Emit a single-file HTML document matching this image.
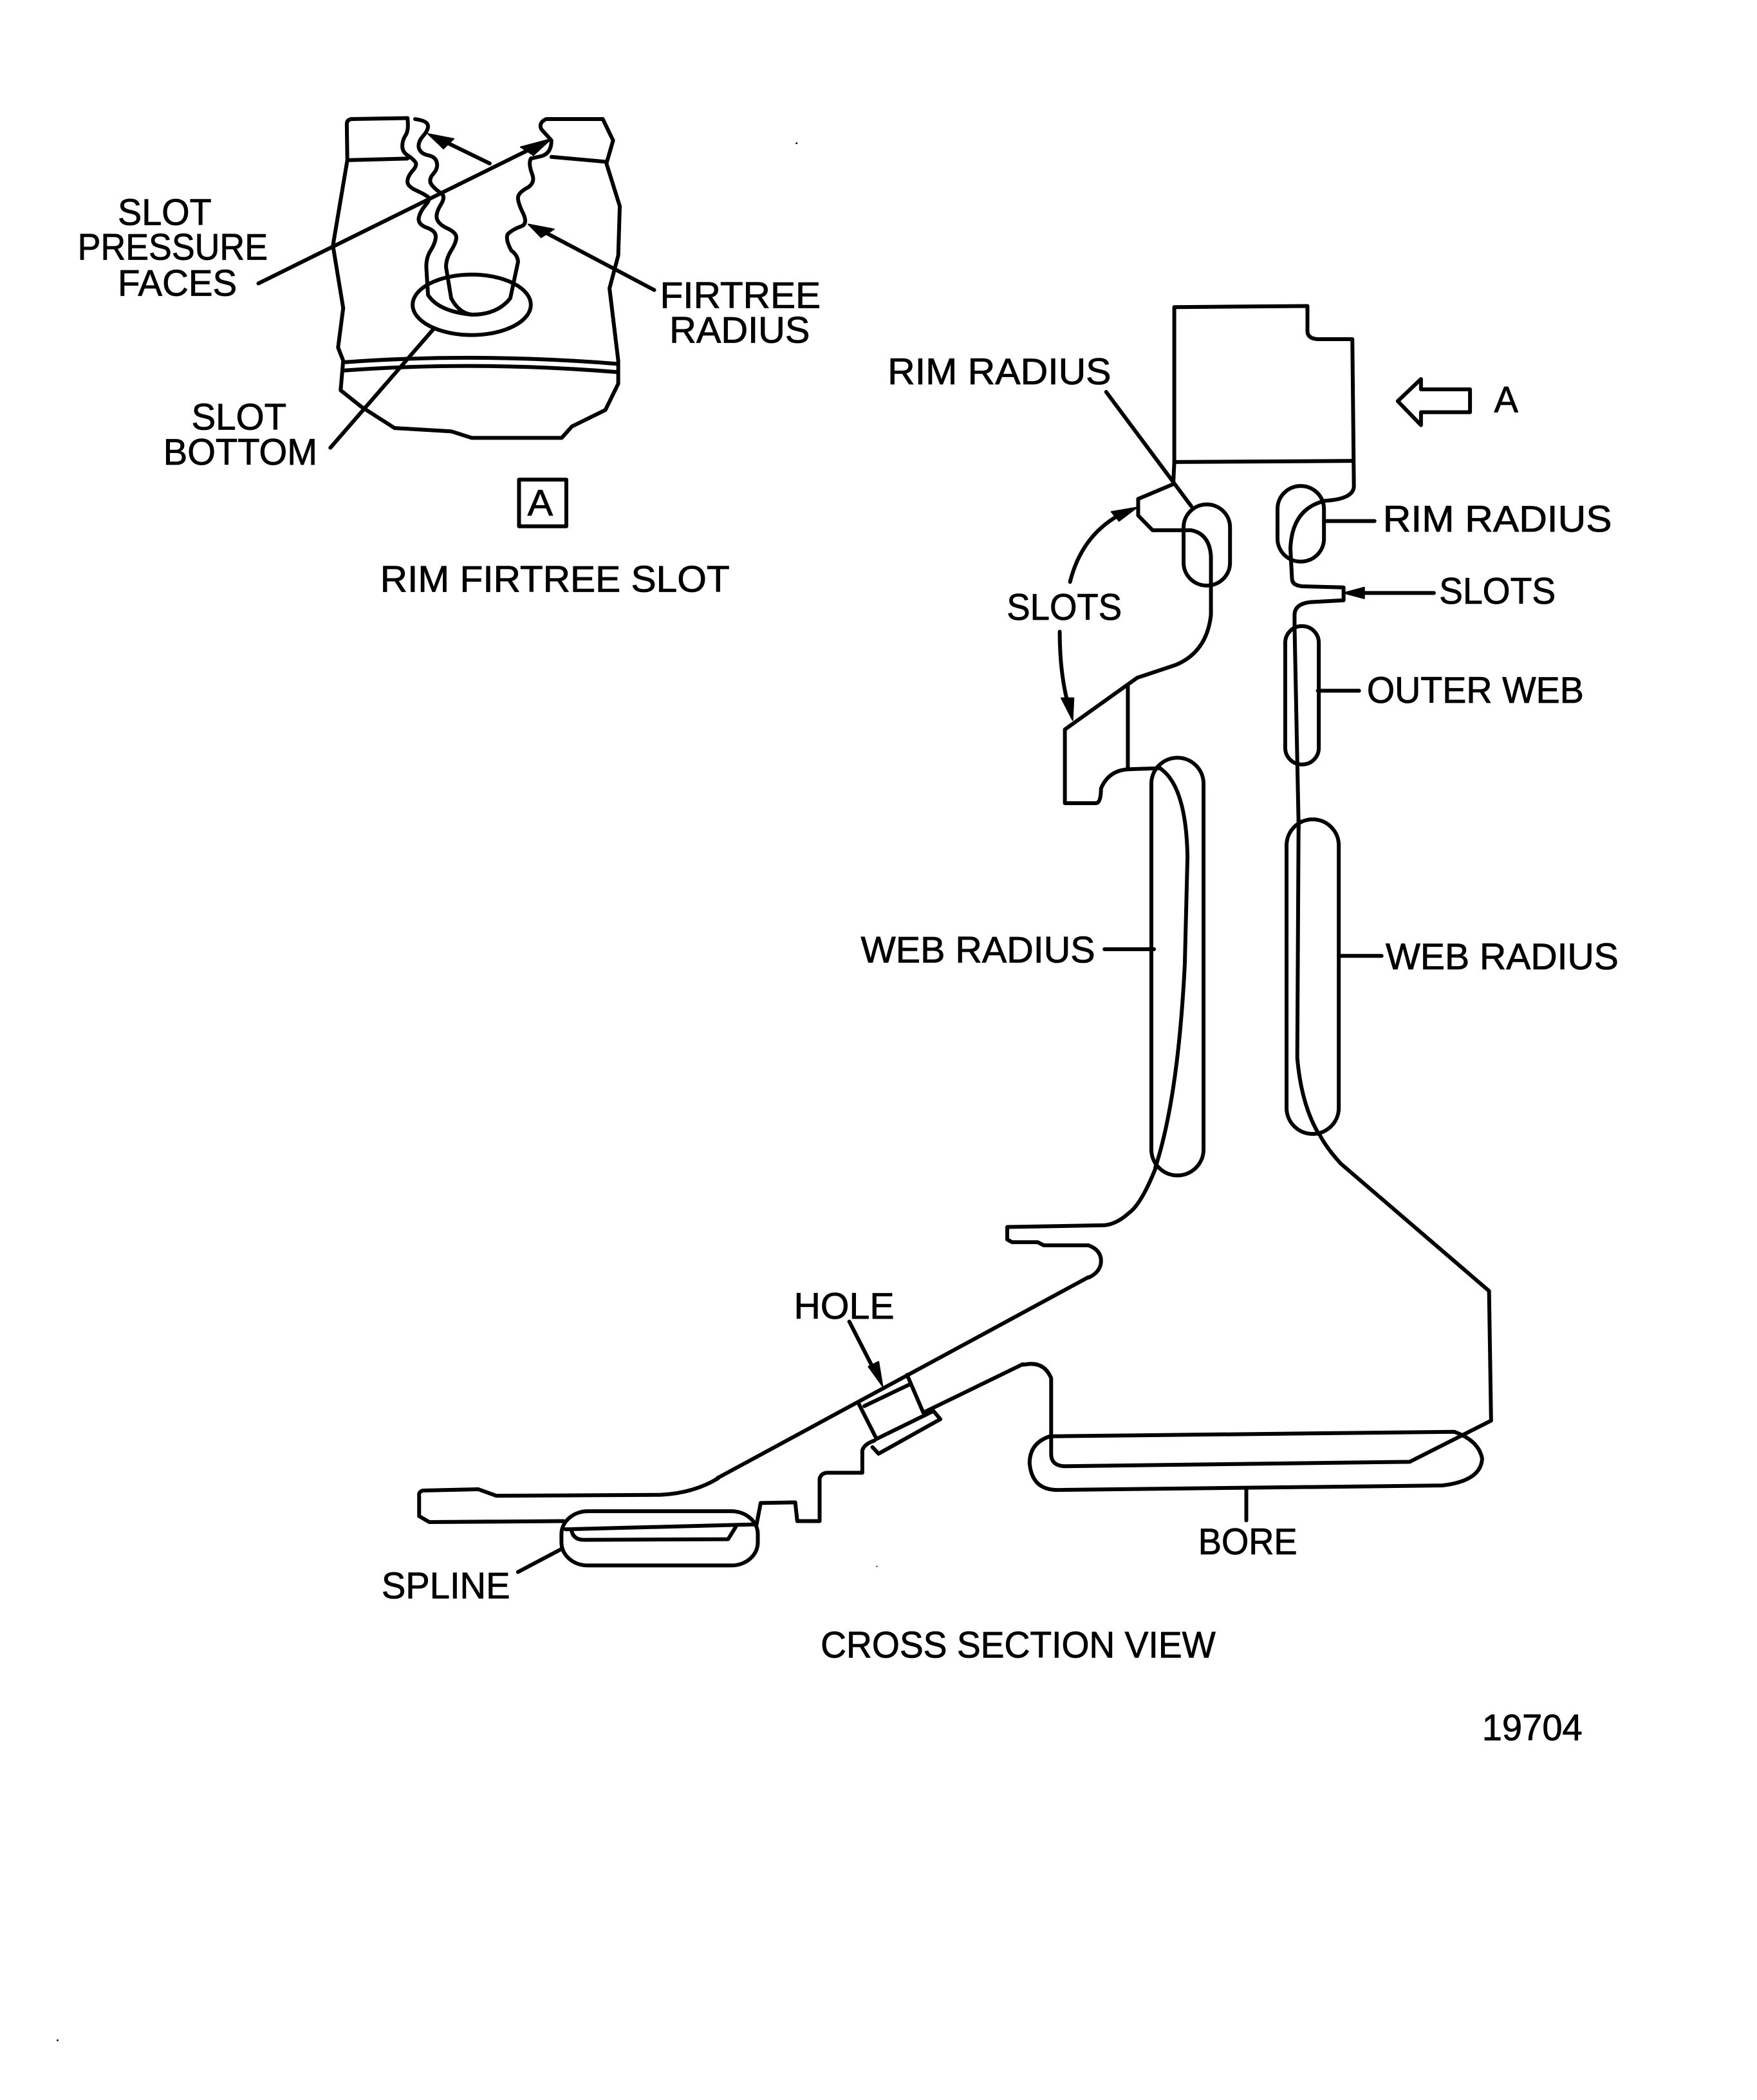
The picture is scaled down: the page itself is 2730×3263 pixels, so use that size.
<!DOCTYPE html>
<html><head><meta charset="utf-8"><style>
html,body{margin:0;padding:0;background:#fff}
svg{display:block}
.l *{fill:none;stroke:#000;stroke-width:6;stroke-linejoin:round;stroke-linecap:round;vector-effect:non-scaling-stroke}
.l .h{fill:#000;stroke-width:2}
text{font-family:"Liberation Sans",sans-serif;font-size:27.8px;fill:#000;stroke:#000;stroke-width:.4}
</style></head><body>
<svg width="2730" height="3263" viewBox="0 0 1312.4 1568.6" preserveAspectRatio="none" xmlns="http://www.w3.org/2000/svg">
<rect width="1313" height="1569" fill="#fff"/>

<!-- firtree slot -->
<g class="l" transform="translate(49,73) scale(.384,.2455)">
<path d="M665,62L555,65Q547,68 547,80L548,190L520,450L540,640L530,760L540,800L535,890L575,940L640,1005L750,1015L790,1035L965,1035L985,1000L1050,950L1075,870L1075,800L1058,580L1075,480L1078,330L1052,200L1065,130L1045,65L935,65Q920,75 925,95L945,130Q945,170 925,178L905,185"/>
<path d="M548,190L665,185M945,180L1052,195"/>
<path d="M665,62Q668,100 661,115Q655,130 655,147Q655,165 665,175Q675,185 680,195Q685,205 675,222Q665,240 665,255Q665,270 682,282Q700,295 705,302Q710,310 700,327Q690,345 687,365Q685,385 702,395Q720,405 720,422Q720,440 710,465Q700,490 702,525L705,600Q725,650 790,660"/>
<path d="M680,65Q705,70 705,87Q705,100 695,117Q685,135 687,152Q690,170 705,175Q720,180 722,197Q725,215 715,232Q705,250 712,265Q720,280 730,290Q740,300 730,325Q720,350 722,367Q725,385 742,397Q760,410 760,425Q760,440 750,465Q740,490 740,515L750,610Q765,655 790,660Q840,660 865,610L880,500Q880,480 867,465Q855,430 860,415Q870,400 885,392Q900,385 890,352Q880,320 880,305Q880,290 897,275Q915,260 907,230Q900,200 905,185"/>
<ellipse cx="790" cy="630" rx="115" ry="92"/>
<path d="M540,805Q800,775 1075,810M540,830Q800,800 1075,835"/>
<path d="M375,565L925,140M825,200L720,120M1145,585L915,395M515,1065L715,705"/>
<polygon class="h" points="945,125 885,150 910,175"/>
<polygon class="h" points="705,110 735,155 755,125"/>
<polygon class="h" points="900,385 925,425 950,400"/>
<rect x="882" y="1162" width="92" height="142"/>
</g>

<!-- rim and upper web -->
<g class="l" transform="translate(647,217) scale(.3855,.2755)">
<path d="M597,45L855,42L855,110Q855,130 875,132L942,132L945,530Q945,565 890,570Q825,590 822,700L825,780Q825,800 845,802L925,805L925,840L860,845Q830,850 830,880L830,910L838,1460"/>
<path d="M597,45L597,465L595,525L527,565L527,610L555,650L630,650Q665,660 668,720L668,880Q660,980 600,1015L525,1050L385,1190L385,1390L445,1390Q455,1390 455,1350Q470,1300 510,1298L570,1295"/>
<path d="M597,465L942,462M507,1070L507,1298"/>
<rect x="615" y="580" width="90" height="220" rx="45" ry="62"/>
<rect x="797" y="530" width="90" height="205" rx="45" ry="62"/>
<rect x="812" y="910" width="65" height="375" rx="32" ry="45"/>
<path d="M465,275L630,585M888,625L985,625M1100,820L950,820M875,1085L955,1085"/>
<path d="M395,790Q420,650 510,595M375,925Q375,1050 395,1140"/>
<polygon class="h" points="925,820 965,805 965,835"/>
<polygon class="h" points="525,588 475,600 490,625"/>
<polygon class="h" points="400,1165 378,1105 402,1105"/>
<polygon points="1030,300 1075,240 1075,268 1170,268 1170,330 1075,330 1075,365"/>
</g>

<!-- web radius -->
<g class="l">
<rect x="860" y="566" width="39" height="312" rx="19.5"/>
<rect x="961" y="612" width="39" height="235" rx="19.5"/>
<path d="M865,573Q886,585 887,640L885,720Q880,820 863,872"/>
<path d="M970,612L969,790Q972,825 985,847"/>
<path d="M862,709L825,709M1000,714L1032,714"/>
<path d="M536,1104L813,954M690,1055L764,1019"/>
</g>

<!-- hub -->
<g class="l" transform="translate(722,819) scale(.3037,.334)">
<path d="M465,160Q430,240 400,260Q370,285 340,288L100,292L100,320L112,326L175,326L190,333L300,333Q335,345 330,375Q325,395 300,405"/>
<path d="M140,600Q190,590 208,630L208,800Q208,825 240,827L1090,817L1290,725L1285,435L920,150Q885,115 868,85"/>
<path d="M205,760Q155,775 155,820Q160,878 220,880L1170,870Q1265,860 1268,810Q1260,770 1200,750Z"/>
<path d="M688,880L688,948"/>
</g>

<!-- spline and hole -->
<g class="l" transform="translate(266,887) scale(.3037,.2455)">
<path d="M890,885Q830,930 750,935L345,938L300,918L165,922Q153,925 155,940L155,1000L180,1018L510,1015"/>
<path d="M515,1040L985,1025L995,960L1080,958L1085,1015L1140,1015L1140,885Q1145,868 1160,868L1245,868L1245,800Q1250,780 1275,770"/>
<path d="M530,1045Q535,1072 560,1072L915,1070L935,1030"/>
<rect x="505" y="985" width="483" height="165" rx="65" ry="70"/>
<path d="M1235,655L1280,765M1355,570L1395,685M1250,665L1360,600M1280,765L1420,680L1437,705L1285,810L1270,790"/>
<path d="M1213,408L1280,570M398,1170L505,1100"/>
<polygon class="h" points="1295,605 1260,545 1285,530"/>
</g>

<!-- specks -->
<circle cx="595" cy="107" r=".7"/><circle cx="43" cy="1524" r=".7"/><circle cx="655" cy="1170" r=".5"/>

<!-- labels -->
<text x="88" y="168" textLength="70" lengthAdjust="spacingAndGlyphs">SLOT</text>
<text x="58" y="194" textLength="142" lengthAdjust="spacingAndGlyphs">PRESSURE</text>
<text x="88" y="221" textLength="89" lengthAdjust="spacingAndGlyphs">FACES</text>
<text x="493" y="230" textLength="120" lengthAdjust="spacingAndGlyphs">FIRTREE</text>
<text x="500" y="256" textLength="105" lengthAdjust="spacingAndGlyphs">RADIUS</text>
<text x="143" y="321" textLength="71" lengthAdjust="spacingAndGlyphs">SLOT</text>
<text x="122" y="347" textLength="115" lengthAdjust="spacingAndGlyphs">BOTTOM</text>
<text x="394" y="385" textLength="19" lengthAdjust="spacingAndGlyphs">A</text>
<text x="284" y="442" textLength="261" lengthAdjust="spacingAndGlyphs">RIM FIRTREE SLOT</text>
<text x="663" y="287" textLength="167" lengthAdjust="spacingAndGlyphs">RIM RADIUS</text>
<text x="1116" y="308" textLength="18" lengthAdjust="spacingAndGlyphs">A</text>
<text x="1033" y="397" textLength="171" lengthAdjust="spacingAndGlyphs">RIM RADIUS</text>
<text x="1075" y="451" textLength="87" lengthAdjust="spacingAndGlyphs">SLOTS</text>
<text x="752" y="463" textLength="86" lengthAdjust="spacingAndGlyphs">SLOTS</text>
<text x="1021" y="525" textLength="162" lengthAdjust="spacingAndGlyphs">OUTER WEB</text>
<text x="643" y="719" textLength="175" lengthAdjust="spacingAndGlyphs">WEB RADIUS</text>
<text x="1035" y="724" textLength="174" lengthAdjust="spacingAndGlyphs">WEB RADIUS</text>
<text x="593" y="985" textLength="75" lengthAdjust="spacingAndGlyphs">HOLE</text>
<text x="895" y="1161" textLength="74" lengthAdjust="spacingAndGlyphs">BORE</text>
<text x="285" y="1194" textLength="96" lengthAdjust="spacingAndGlyphs">SPLINE</text>
<text x="613" y="1238" textLength="295" lengthAdjust="spacingAndGlyphs">CROSS SECTION VIEW</text>
<text x="1107" y="1300" textLength="75" lengthAdjust="spacingAndGlyphs">19704</text>
</svg>
</body></html>
